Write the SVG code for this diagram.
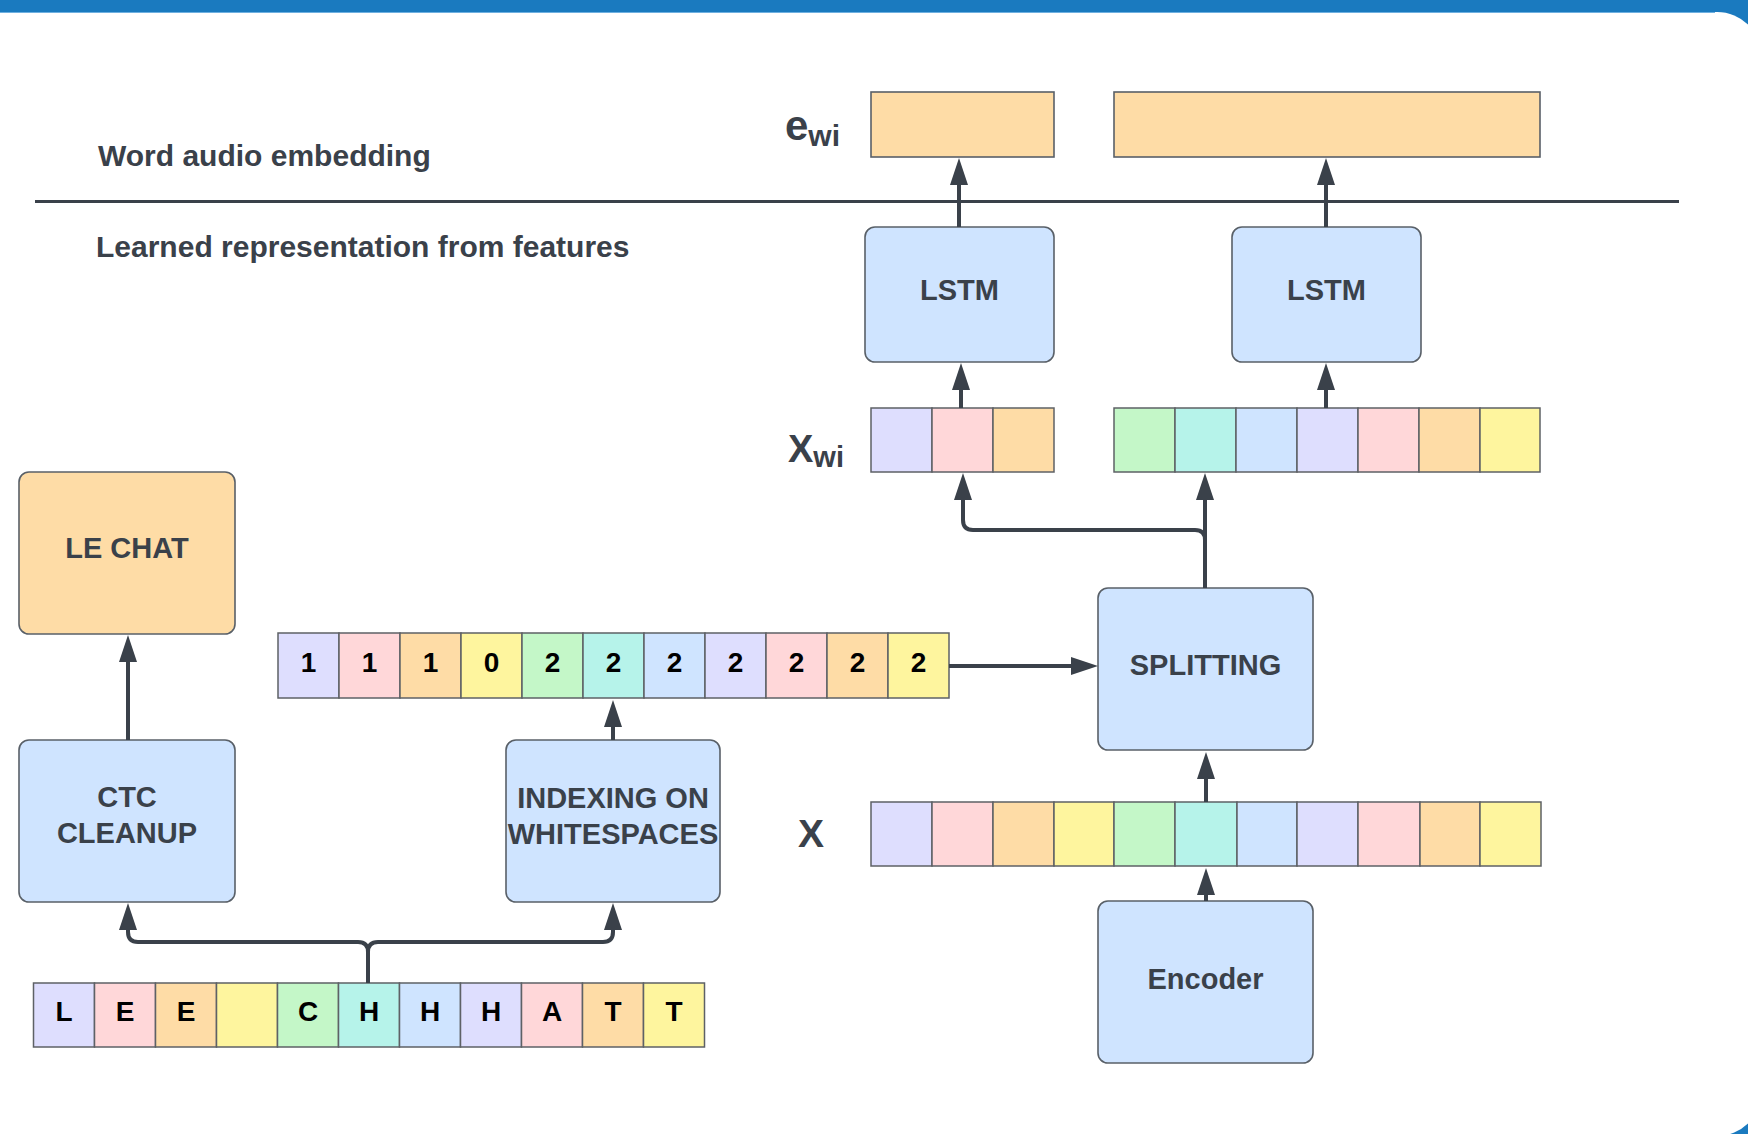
<svg xmlns="http://www.w3.org/2000/svg" width="1748" height="1134" viewBox="0 0 1748 1134">
<style>
.lbl{font-family:"Liberation Sans",Arial,sans-serif;font-weight:bold;fill:#3a414a}
.bt{font-family:"Liberation Sans",Arial,sans-serif;font-weight:bold;fill:#3a414a;font-size:29px;text-anchor:middle}
.ct{font-family:"Liberation Sans",Arial,sans-serif;font-weight:bold;fill:#000;font-size:28px;text-anchor:middle}
.box{fill:#cfe4ff;stroke:#596068;stroke-width:1.6}
.obox{fill:#fedca6;stroke:#596068;stroke-width:1.6}
.cell{stroke:#5e6166;stroke-width:1.5}
.c0{fill:#dedefe}.c1{fill:#ffd7d9}.c2{fill:#fedca6}.c3{fill:#fef59e}.c4{fill:#c4f7c8}.c5{fill:#b6f3ea}.c6{fill:#cfe4ff}
.con{fill:none;stroke:#3a414a;stroke-width:4}
</style>
<defs>
<marker id="ah" markerUnits="userSpaceOnUse" markerWidth="28" markerHeight="20" refX="0" refY="9.5" orient="auto">
<path d="M0,0.5 L27,9.5 L0,18.5 Z" fill="#3a414a"/>
</marker>
</defs>
<rect x="0" y="0" width="1748" height="1134" fill="#1a7abf"/>
<rect x="-60" y="12" width="1822" height="1124" rx="45" ry="45" fill="#ffffff"/>
<line x1="0" y1="12.5" x2="1715" y2="12.5" stroke="#6fb0e0" stroke-width="1"/>

<g id="labels">
<text class="lbl" x="98" y="166" font-size="30">Word audio embedding</text>
<text class="lbl" x="96" y="257" font-size="30">Learned representation from features</text>
<text class="lbl" x="785" y="140" font-size="42">e<tspan font-size="30" dy="6">wi</tspan></text>
<text class="lbl" x="788" y="462" font-size="38">X<tspan font-size="29" dy="5">wi</tspan></text>
<text class="lbl" x="798" y="847" font-size="39">X</text>
</g>
<g id="divider"><line x1="35" y1="201.5" x2="1679" y2="201.5" stroke="#3a414a" stroke-width="3"/></g>

<g id="ewi1"><rect class="obox" x="871" y="92" width="183" height="65"/></g>
<g id="ewi2"><rect class="obox" x="1114" y="92" width="426" height="65"/></g>

<g id="lstm1"><rect class="box" x="865" y="227" width="189" height="135" rx="10"/><text class="bt" x="959.5" y="300">LSTM</text></g>
<g id="lstm2"><rect class="box" x="1232" y="227" width="189" height="135" rx="10"/><text class="bt" x="1326.5" y="300">LSTM</text></g>

<g id="xwi1">
<rect class="cell c0" x="871" y="408" width="61" height="64"/>
<rect class="cell c1" x="932" y="408" width="61" height="64"/>
<rect class="cell c2" x="993" y="408" width="61" height="64"/>
</g>
<g id="xwi2">
<rect class="cell c4" x="1114" y="408" width="61" height="64"/>
<rect class="cell c5" x="1175" y="408" width="61" height="64"/>
<rect class="cell c6" x="1236" y="408" width="61" height="64"/>
<rect class="cell c0" x="1297" y="408" width="61" height="64"/>
<rect class="cell c1" x="1358" y="408" width="61" height="64"/>
<rect class="cell c2" x="1419" y="408" width="61" height="64"/>
<rect class="cell c3" x="1480" y="408" width="60" height="64"/>
</g>

<g id="lechat"><rect class="obox" x="19" y="472" width="216" height="162" rx="10"/><text class="bt" x="127" y="558">LE CHAT</text></g>

<g id="indexrow">
<rect class="cell c0" x="278" y="633" width="61" height="65"/>
<rect class="cell c1" x="339" y="633" width="61" height="65"/>
<rect class="cell c2" x="400" y="633" width="61" height="65"/>
<rect class="cell c3" x="461" y="633" width="61" height="65"/>
<rect class="cell c4" x="522" y="633" width="61" height="65"/>
<rect class="cell c5" x="583" y="633" width="61" height="65"/>
<rect class="cell c6" x="644" y="633" width="61" height="65"/>
<rect class="cell c0" x="705" y="633" width="61" height="65"/>
<rect class="cell c1" x="766" y="633" width="61" height="65"/>
<rect class="cell c2" x="827" y="633" width="61" height="65"/>
<rect class="cell c3" x="888" y="633" width="61" height="65"/>
<text class="ct" x="308.5" y="672">1</text>
<text class="ct" x="369.5" y="672">1</text>
<text class="ct" x="430.5" y="672">1</text>
<text class="ct" x="491.5" y="672">0</text>
<text class="ct" x="552.5" y="672">2</text>
<text class="ct" x="613.5" y="672">2</text>
<text class="ct" x="674.5" y="672">2</text>
<text class="ct" x="735.5" y="672">2</text>
<text class="ct" x="796.5" y="672">2</text>
<text class="ct" x="857.5" y="672">2</text>
<text class="ct" x="918.5" y="672">2</text>
</g>

<g id="splitting"><rect class="box" x="1098" y="588" width="215" height="162" rx="10"/><text class="bt" x="1205.5" y="675">SPLITTING</text></g>

<g id="ctc"><rect class="box" x="19" y="740" width="216" height="162" rx="10"/><text class="bt" x="127" y="807">CTC</text><text class="bt" x="127" y="843">CLEANUP</text></g>
<g id="indexing"><rect class="box" x="506" y="740" width="214" height="162" rx="10"/><text class="bt" x="613" y="808">INDEXING ON</text><text class="bt" x="613" y="844">WHITESPACES</text></g>

<g id="xrow">
<rect class="cell c0" x="871" y="802" width="61" height="64"/>
<rect class="cell c1" x="932" y="802" width="61" height="64"/>
<rect class="cell c2" x="993" y="802" width="61" height="64"/>
<rect class="cell c3" x="1054" y="802" width="60" height="64"/>
<rect class="cell c4" x="1114" y="802" width="61" height="64"/>
<rect class="cell c5" x="1175" y="802" width="62" height="64"/>
<rect class="cell c6" x="1237" y="802" width="60" height="64"/>
<rect class="cell c0" x="1297" y="802" width="61" height="64"/>
<rect class="cell c1" x="1358" y="802" width="62" height="64"/>
<rect class="cell c2" x="1420" y="802" width="60" height="64"/>
<rect class="cell c3" x="1480" y="802" width="61" height="64"/>
</g>

<g id="encoder"><rect class="box" x="1098" y="901" width="215" height="162" rx="10"/><text class="bt" x="1205.5" y="989">Encoder</text></g>

<g id="letterrow">
<rect class="cell c0" x="33.5" y="983" width="61" height="64"/>
<rect class="cell c1" x="94.5" y="983" width="61" height="64"/>
<rect class="cell c2" x="155.5" y="983" width="61" height="64"/>
<rect class="cell c3" x="216.5" y="983" width="61" height="64"/>
<rect class="cell c4" x="277.5" y="983" width="61" height="64"/>
<rect class="cell c5" x="338.5" y="983" width="61" height="64"/>
<rect class="cell c6" x="399.5" y="983" width="61" height="64"/>
<rect class="cell c0" x="460.5" y="983" width="61" height="64"/>
<rect class="cell c1" x="521.5" y="983" width="61" height="64"/>
<rect class="cell c2" x="582.5" y="983" width="61" height="64"/>
<rect class="cell c3" x="643.5" y="983" width="61" height="64"/>
<text class="ct" x="64" y="1021">L</text>
<text class="ct" x="125" y="1021">E</text>
<text class="ct" x="186" y="1021">E</text>
<text class="ct" x="308" y="1021">C</text>
<text class="ct" x="369" y="1021">H</text>
<text class="ct" x="430" y="1021">H</text>
<text class="ct" x="491" y="1021">H</text>
<text class="ct" x="552" y="1021">A</text>
<text class="ct" x="613" y="1021">T</text>
<text class="ct" x="674" y="1021">T</text>
</g>

<g id="connectors">
<path class="con" d="M959,227 V185" marker-end="url(#ah)"/>
<path class="con" d="M1326,227 V185" marker-end="url(#ah)"/>
<path class="con" d="M961,408 V390" marker-end="url(#ah)"/>
<path class="con" d="M1326,408 V390" marker-end="url(#ah)"/>
<path class="con" d="M1205,588 V540 Q1205,530 1195,530 H973 Q963,530 963,520 V500" marker-end="url(#ah)"/>
<path class="con" d="M1205,588 V500" marker-end="url(#ah)"/>
<path class="con" d="M949,666 H1071" marker-end="url(#ah)"/>
<path class="con" d="M1206,802 V779" marker-end="url(#ah)"/>
<path class="con" d="M1206,901 V895" marker-end="url(#ah)"/>
<path class="con" d="M128,740 V662" marker-end="url(#ah)"/>
<path class="con" d="M613,740 V727" marker-end="url(#ah)"/>
<path class="con" d="M368,983 V952 Q368,942 358,942 H138 Q128,942 128,932 V930" marker-end="url(#ah)"/>
<path class="con" d="M368,983 V952 Q368,942 378,942 H603 Q613,942 613,932 V930" marker-end="url(#ah)"/>
</g>
</svg>
